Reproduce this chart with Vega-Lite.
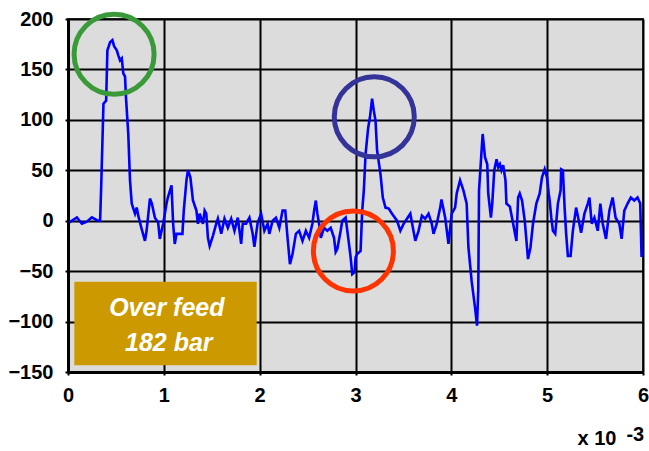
{
  "$schema": "https://vega.github.io/schema/vega-lite/v6.json",
  "autosize": {"type": "none"},
  "width": 575,
  "height": 353,
  "padding": {"left": 68, "top": 19, "right": 6, "bottom": 79},
  "background": "white",
  "config": {
    "font": "Liberation Sans",
    "view": {"fill": "#DCDCDC", "stroke": "#333333", "strokeWidth": 2},
    "axis": {
      "labelFont": "Liberation Sans",
      "labelFontWeight": "bold",
      "labelFontSize": 20,
      "labelColor": "black",
      "domainColor": "black",
      "domainWidth": 3,
      "gridColor": "black",
      "gridWidth": 2,
      "gridOpacity": 1,
      "tickColor": "black",
      "tickWidth": 2,
      "tickSize": 3,
      "title": null
    }
  },
  "datasets": {
    "signal": [
      {"t": 0.014, "p": -1.7}, {"t": 0.093, "p": 3.3}, {"t": 0.145, "p": -3}, {"t": 0.197, "p": -1},
      {"t": 0.249, "p": 3.3}, {"t": 0.301, "p": 0.5}, {"t": 0.335, "p": 0}, {"t": 0.346, "p": 33},
      {"t": 0.370, "p": 116}, {"t": 0.398, "p": 119}, {"t": 0.411, "p": 169}, {"t": 0.422, "p": 172},
      {"t": 0.439, "p": 177}, {"t": 0.463, "p": 179}, {"t": 0.481, "p": 173}, {"t": 0.509, "p": 169},
      {"t": 0.525, "p": 164}, {"t": 0.543, "p": 159}, {"t": 0.561, "p": 161}, {"t": 0.577, "p": 146},
      {"t": 0.595, "p": 143}, {"t": 0.605, "p": 122}, {"t": 0.629, "p": 86}, {"t": 0.647, "p": 40},
      {"t": 0.665, "p": 17}, {"t": 0.699, "p": 7}, {"t": 0.717, "p": 13}, {"t": 0.733, "p": 5},
      {"t": 0.768, "p": -8}, {"t": 0.803, "p": -20}, {"t": 0.820, "p": -10}, {"t": 0.855, "p": 22},
      {"t": 0.875, "p": 17}, {"t": 0.907, "p": 3}, {"t": 0.941, "p": -2}, {"t": 0.958, "p": -18},
      {"t": 0.993, "p": -3}, {"t": 1.028, "p": 17}, {"t": 1.042, "p": 23}, {"t": 1.080, "p": 35},
      {"t": 1.097, "p": -3}, {"t": 1.114, "p": -23}, {"t": 1.132, "p": -13}, {"t": 1.166, "p": -13},
      {"t": 1.194, "p": -13}, {"t": 1.208, "p": 10}, {"t": 1.236, "p": 40}, {"t": 1.252, "p": 50},
      {"t": 1.277, "p": 43}, {"t": 1.304, "p": 20}, {"t": 1.340, "p": 10}, {"t": 1.356, "p": -3},
      {"t": 1.374, "p": 7}, {"t": 1.408, "p": -3}, {"t": 1.426, "p": 10}, {"t": 1.443, "p": 7},
      {"t": 1.460, "p": -17}, {"t": 1.478, "p": -25}, {"t": 1.512, "p": -15}, {"t": 1.547, "p": -3},
      {"t": 1.564, "p": 2}, {"t": 1.599, "p": -13}, {"t": 1.633, "p": 2}, {"t": 1.668, "p": -7},
      {"t": 1.703, "p": 2}, {"t": 1.737, "p": -10}, {"t": 1.772, "p": 3}, {"t": 1.807, "p": -23},
      {"t": 1.823, "p": -3}, {"t": 1.858, "p": -3}, {"t": 1.893, "p": 3}, {"t": 1.927, "p": -13},
      {"t": 1.945, "p": -26}, {"t": 1.979, "p": -2}, {"t": 2.015, "p": 7}, {"t": 2.049, "p": -10},
      {"t": 2.083, "p": -3}, {"t": 2.101, "p": -13}, {"t": 2.135, "p": 0}, {"t": 2.170, "p": 3},
      {"t": 2.205, "p": -7}, {"t": 2.239, "p": 10}, {"t": 2.267, "p": 10}, {"t": 2.291, "p": -17},
      {"t": 2.316, "p": -43}, {"t": 2.343, "p": -33}, {"t": 2.378, "p": -13}, {"t": 2.412, "p": -10},
      {"t": 2.447, "p": -20}, {"t": 2.482, "p": -10}, {"t": 2.516, "p": -17}, {"t": 2.550, "p": -3},
      {"t": 2.568, "p": 10}, {"t": 2.586, "p": 20}, {"t": 2.602, "p": 7}, {"t": 2.620, "p": -3},
      {"t": 2.638, "p": -17}, {"t": 2.672, "p": -7}, {"t": 2.706, "p": -10}, {"t": 2.741, "p": -7},
      {"t": 2.776, "p": -17}, {"t": 2.793, "p": -31}, {"t": 2.810, "p": -28}, {"t": 2.845, "p": -10},
      {"t": 2.862, "p": 0}, {"t": 2.897, "p": 3}, {"t": 2.924, "p": -17}, {"t": 2.949, "p": -36},
      {"t": 2.966, "p": -53}, {"t": 2.991, "p": -51}, {"t": 3.001, "p": -36}, {"t": 3.018, "p": -33},
      {"t": 3.053, "p": -30}, {"t": 3.070, "p": 10}, {"t": 3.087, "p": 30}, {"t": 3.105, "p": 66},
      {"t": 3.132, "p": 92}, {"t": 3.150, "p": 102}, {"t": 3.173, "p": 121}, {"t": 3.191, "p": 109},
      {"t": 3.209, "p": 99}, {"t": 3.225, "p": 70}, {"t": 3.261, "p": 46}, {"t": 3.285, "p": 23},
      {"t": 3.313, "p": 13}, {"t": 3.347, "p": 12}, {"t": 3.381, "p": 7}, {"t": 3.433, "p": 0},
      {"t": 3.468, "p": -10}, {"t": 3.503, "p": -3}, {"t": 3.537, "p": 2}, {"t": 3.572, "p": 7},
      {"t": 3.624, "p": -20}, {"t": 3.658, "p": -10}, {"t": 3.693, "p": 5}, {"t": 3.728, "p": 2},
      {"t": 3.762, "p": 7}, {"t": 3.796, "p": -3}, {"t": 3.814, "p": -13}, {"t": 3.848, "p": -3},
      {"t": 3.884, "p": 13}, {"t": 3.897, "p": 21}, {"t": 3.936, "p": 3}, {"t": 3.970, "p": -23},
      {"t": 4.004, "p": 7}, {"t": 4.039, "p": 13}, {"t": 4.056, "p": 27}, {"t": 4.091, "p": 40},
      {"t": 4.126, "p": 30}, {"t": 4.160, "p": 17}, {"t": 4.178, "p": -26}, {"t": 4.212, "p": -60},
      {"t": 4.247, "p": -86}, {"t": 4.268, "p": -104}, {"t": 4.281, "p": -69}, {"t": 4.289, "p": 30},
      {"t": 4.316, "p": 70}, {"t": 4.327, "p": 86}, {"t": 4.351, "p": 63}, {"t": 4.375, "p": 56},
      {"t": 4.385, "p": 27}, {"t": 4.413, "p": 3}, {"t": 4.427, "p": 17}, {"t": 4.448, "p": 50},
      {"t": 4.472, "p": 61}, {"t": 4.489, "p": 53}, {"t": 4.507, "p": 56}, {"t": 4.523, "p": 50},
      {"t": 4.541, "p": 55}, {"t": 4.565, "p": 40}, {"t": 4.575, "p": 17}, {"t": 4.611, "p": 14},
      {"t": 4.645, "p": -3}, {"t": 4.679, "p": -20}, {"t": 4.697, "p": 23}, {"t": 4.714, "p": 27},
      {"t": 4.738, "p": 20}, {"t": 4.766, "p": 0}, {"t": 4.800, "p": -38}, {"t": 4.825, "p": -27},
      {"t": 4.852, "p": -3}, {"t": 4.887, "p": 17}, {"t": 4.922, "p": 27}, {"t": 4.946, "p": 43},
      {"t": 4.974, "p": 51}, {"t": 4.998, "p": 43}, {"t": 5.016, "p": 27}, {"t": 5.026, "p": 20},
      {"t": 5.043, "p": 3}, {"t": 5.060, "p": -10}, {"t": 5.084, "p": -13}, {"t": 5.112, "p": 17},
      {"t": 5.140, "p": 30}, {"t": 5.146, "p": 51}, {"t": 5.164, "p": 50}, {"t": 5.182, "p": 13},
      {"t": 5.198, "p": -13}, {"t": 5.216, "p": -35}, {"t": 5.244, "p": -35}, {"t": 5.268, "p": -10},
      {"t": 5.302, "p": 13}, {"t": 5.330, "p": 0}, {"t": 5.354, "p": -12}, {"t": 5.389, "p": 7},
      {"t": 5.424, "p": 17}, {"t": 5.441, "p": 23}, {"t": 5.465, "p": -3}, {"t": 5.493, "p": 3},
      {"t": 5.528, "p": -10}, {"t": 5.555, "p": 17}, {"t": 5.580, "p": -3}, {"t": 5.614, "p": -18},
      {"t": 5.649, "p": 10}, {"t": 5.683, "p": 23}, {"t": 5.714, "p": 3}, {"t": 5.753, "p": -3},
      {"t": 5.777, "p": -18}, {"t": 5.805, "p": 10}, {"t": 5.839, "p": 17}, {"t": 5.873, "p": 23},
      {"t": 5.909, "p": 20}, {"t": 5.943, "p": 23}, {"t": 5.971, "p": 17}, {"t": 5.985, "p": -36}
    ],
    "rings": [
      {"t": 0.481, "p": 165, "event": "peak"},
      {"t": 3.196, "p": 103, "event": "rebound"},
      {"t": 2.978, "p": -30, "event": "dip"}
    ],
    "box": [{"t": 0.066, "t2": 1.969, "p": -60.5, "p2": -143.3}],
    "note": [
      {"t": 1.031, "p": -87, "text": "Over feed"},
      {"t": 1.052, "p": -121, "text": "182 bar"}
    ],
    "unit": [
      {"t": 5.52, "p": -216, "text": "x 10"},
      {"t": 5.92, "p": -212, "text": "-3"}
    ]
  },
  "encoding": {
    "x": {
      "field": "t", "type": "quantitative",
      "scale": {"domain": [0, 6], "nice": false, "zero": false},
      "axis": {"values": [0, 1, 2, 3, 4, 5, 6], "labelPadding": 10, "labelFlush": false}
    },
    "y": {
      "field": "p", "type": "quantitative",
      "scale": {"domain": [-150, 200], "nice": false, "zero": false},
      "axis": {"values": [-150, -100, -50, 0, 50, 100, 150, 200], "labelPadding": 12, "labelFlush": false}
    }
  },
  "layer": [
    {
      "data": {"name": "box"},
      "mark": {"type": "rect", "color": "#CC9900"},
      "encoding": {"x2": {"field": "t2"}, "y2": {"field": "p2"}}
    },
    {
      "data": {"name": "note"},
      "mark": {"type": "text", "color": "white", "font": "Liberation Sans", "fontSize": 25, "fontWeight": "bold", "fontStyle": "italic", "align": "center", "baseline": "middle"},
      "encoding": {"text": {"field": "text"}}
    },
    {
      "data": {"name": "signal"},
      "mark": {"type": "line", "color": "#0000FF", "strokeWidth": 2.6, "clip": true},
      "encoding": {}
    },
    {
      "data": {"name": "rings"},
      "mark": {"type": "point", "shape": "circle", "filled": false, "size": 6400, "strokeWidth": 5, "opacity": 1},
      "encoding": {
        "color": {
          "field": "event", "type": "nominal", "legend": null,
          "scale": {"domain": ["peak", "rebound", "dip"], "range": ["#3A9A3A", "#333399", "#FF3300"]}
        }
      }
    },
    {
      "data": {"name": "unit"},
      "mark": {"type": "text", "color": "black", "font": "Liberation Sans", "fontSize": 20, "fontWeight": "bold", "align": "center", "baseline": "middle", "clip": false},
      "encoding": {"text": {"field": "text"}}
    }
  ]
}
